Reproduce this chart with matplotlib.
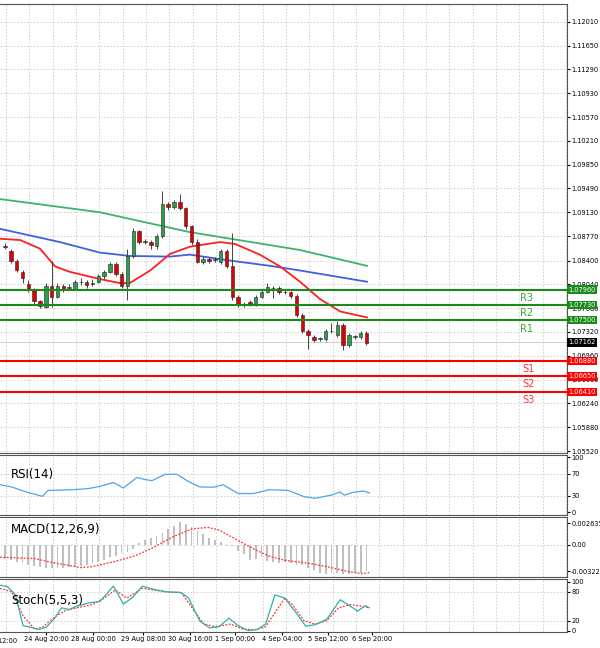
import matplotlib
matplotlib.use("Agg")
import matplotlib.pyplot as plt
import numpy as np

opens = [1.0862,1.0855,1.0840,1.0822,1.0805,1.0797,1.0779,1.0770,1.0802,1.0785,1.0802,1.0798,1.0797,1.0808,1.0808,1.0805,1.0808,1.0816,1.0823,1.0835,1.0820,1.0802,1.0847,1.0885,1.0868,1.0868,1.0862,1.0877,1.0925,1.0921,1.0928,1.0919,1.0892,1.0868,1.0838,1.0843,1.0841,1.0838,1.0855,1.0832,1.0785,1.0773,1.0778,1.0773,1.0785,1.0793,1.0799,1.0798,1.0793,1.0792,1.0787,1.0757,1.0733,1.0724,1.0722,1.0722,1.0733,1.0727,1.0743,1.0712,1.0725,1.0724,1.0730]
closes = [1.0861,1.0840,1.0825,1.0813,1.0797,1.0779,1.0772,1.0802,1.0785,1.0802,1.0797,1.0800,1.0808,1.0807,1.0803,1.0806,1.0817,1.0823,1.0835,1.0820,1.0802,1.0847,1.0885,1.0868,1.0869,1.0864,1.0877,1.0925,1.0921,1.0928,1.0919,1.0892,1.0868,1.0838,1.0843,1.0840,1.0843,1.0855,1.0832,1.0785,1.0773,1.0774,1.0773,1.0785,1.0793,1.0800,1.0798,1.0793,1.0792,1.0787,1.0757,1.0733,1.0727,1.0720,1.0722,1.0734,1.0733,1.0743,1.0712,1.0727,1.0725,1.0730,1.0716]
highs = [1.0866,1.0858,1.0843,1.0825,1.0810,1.0799,1.0781,1.0806,1.0840,1.0806,1.0804,1.0804,1.0810,1.0813,1.0811,1.0812,1.0820,1.0826,1.0838,1.0838,1.0823,1.0858,1.0889,1.0886,1.0872,1.0871,1.0880,1.0945,1.0929,1.0932,1.0940,1.0921,1.0894,1.0872,1.0847,1.0846,1.0846,1.0858,1.0858,1.0882,1.0788,1.0777,1.0781,1.0788,1.0797,1.0806,1.0802,1.0801,1.0796,1.0794,1.0790,1.0760,1.0736,1.0727,1.0725,1.0737,1.0745,1.0748,1.0746,1.0730,1.0728,1.0733,1.0733]
lows = [1.0858,1.0836,1.0822,1.0806,1.0792,1.0775,1.0768,1.0768,1.0770,1.0783,1.0793,1.0795,1.0795,1.0803,1.0799,1.0801,1.0806,1.0812,1.0821,1.0817,1.0798,1.0780,1.0844,1.0865,1.0865,1.0858,1.0858,1.0874,1.0917,1.0918,1.0916,1.0888,1.0864,1.0836,1.0835,1.0837,1.0838,1.0835,1.0829,1.0780,1.0770,1.0770,1.0771,1.0771,1.0783,1.0791,1.0784,1.0790,1.0789,1.0784,1.0754,1.0730,1.0707,1.0717,1.0719,1.0719,1.0730,1.0724,1.0705,1.0709,1.0722,1.0721,1.0713]

ma_red_x = [-0.86,2.6,6,8.6,11.1,16.3,19.7,21.4,24.9,28.3,31.7,36.9,39.5,43.7,47.2,50.6,54,57.5,62.1]
ma_red_y = [1.0873,1.0871,1.0858,1.0831,1.0823,1.0812,1.0806,1.0806,1.0825,1.0850,1.0861,1.0868,1.0865,1.0849,1.0831,1.0808,1.0782,1.0763,1.0754]
ma_blue_x = [-0.86,9.4,16.3,21.4,28.3,31.7,38.6,45.5,50.6,62.1]
ma_blue_y = [1.0888,1.0868,1.0852,1.0847,1.0846,1.0849,1.0840,1.0832,1.0825,1.0808]
ma_green_x = [-0.86,16.3,31.7,50.6,62.1]
ma_green_y = [1.0933,1.0913,1.0883,1.0856,1.0832]

res_levels = [1.0796,1.0773,1.0750]
res_names = ["R3","R2","R1"]
sup_levels = [1.0688,1.0665,1.0641]
sup_names = ["S1","S2","S3"]
last_price = 1.07162

price_ticks = [1.12010,1.11650,1.11290,1.10930,1.10570,1.10210,1.09850,1.09490,1.09130,1.08770,1.08400,1.08040,1.07680,1.07320,1.06960,1.06600,1.06240,1.05880,1.05520]

rsi_x = [-0.86,1.12,3.1,6.4,7.4,9.7,12.3,14.3,16.3,18.6,20.3,22.6,23.9,25.2,27.5,29.5,31.5,33.4,35.8,37.4,40.0,42.7,45.3,48.6,51.3,53.2,55.9,57.5,58.2,59.5,61.5,62.5]
rsi_y = [50,46,38.6,28.9,39.7,40.3,41.4,43,47,54,44,63,59.7,57.4,68.9,69,55.7,46,45.4,50,34,34,40.9,39.7,28.3,25.4,31,36.9,31,35.7,38.6,35.1]

macd_hist = [-1.66,-1.87,-2.04,-2.21,-2.38,-2.51,-2.68,-2.85,-2.85,-2.85,-2.81,-2.64,-2.64,-2.51,-2.38,-2.21,-2.08,-1.79,-1.49,-1.36,-0.98,-0.81,-0.51,0.26,0.55,0.85,1.06,1.40,1.91,2.34,2.76,2.59,2.17,1.74,1.32,0.89,0.64,0.38,0.13,-0.13,-0.72,-1.15,-1.79,-1.66,-1.49,-1.91,-2.08,-2.21,-2.08,-2.21,-2.42,-2.42,-2.85,-3.06,-3.36,-3.49,-3.36,-3.36,-3.49,-3.49,-3.36,-3.36,-3.19]
macd_sig_x = [-0.86,5.1,7.7,13,15,18.9,22.2,25.5,28.8,32.1,34.8,36.7,39.4,42.7,45.3,48,51.9,55.2,58.5,61.2,62.5]
macd_sig_y = [-1.49,-1.66,-2.08,-2.76,-2.64,-2.00,-1.36,-0.30,0.98,1.96,2.13,1.83,0.77,-0.51,-1.36,-1.87,-2.21,-2.64,-3.19,-3.49,-3.36]

stk_x = [-0.86,0.46,1.78,3.1,4.42,5.74,7.06,8.38,9.7,11.0,12.3,14.3,16.3,18.6,20.3,21.9,23.55,25.5,27.5,30.2,31.5,33.4,35.1,36.7,38.4,40.0,41.7,43.3,44.7,46.3,48.0,50.0,51.6,53.2,55.2,57.5,58.8,60.5,61.8,62.5]
stk_y = [93.3,90,73.3,10,6.7,2,6.7,23.3,46.7,43.3,50,56.7,60,91.3,54.7,68,91.3,84.7,80,78,66.7,20,5.3,8,25.3,10,0,2,13.3,73.3,66.7,35.3,8.7,12,23.3,63.3,53.3,40,51.3,46.7]
sig_x = [-0.86,1.12,3.1,5.08,6.4,8.38,10.36,12.3,15.0,17.0,18.9,20.9,23.55,25.5,28.2,30.2,32.1,34.1,36.1,38.7,40.7,42.7,44.7,48.0,49.3,51.3,53.2,55.2,57.2,59.2,61.2,62.5]
sig_y = [86.7,80,30,3.3,6.7,26.7,41.3,46.7,53.3,66.7,83.3,66.7,86.7,83.3,78.7,78.7,46.7,13.3,8,13.3,3.3,1.3,8,66.7,53.3,20,13.3,20,46.7,53.3,50,46.7]

date_pos = [7.1,15.1,23.7,31.7,39.5,47.5,55.4,62.9]
date_labels = ["24 Aug 20:00","28 Aug 00:00","29 Aug 08:00","30 Aug 16:00","1 Sep 00:00","4 Sep 04:00","5 Sep 12:00","6 Sep 20:00"]

W, H = 600, 648
FS = 4.8
fig = plt.figure(figsize=(6, 6.48), dpi=100)
XL = (-0.86, 96.4)
right = 567

def mkax(top, bot):
    ax = fig.add_axes([0, 1 - bot / H, right / W, (bot - top) / H])
    ax.set_xlim(*XL)
    ax.yaxis.tick_right()
    ax.tick_params(axis='y', labelsize=FS, length=2, pad=1)
    ax.tick_params(axis='x', length=0, labelbottom=False)
    ax.spines['left'].set_visible(False)
    for s in ['top', 'bottom', 'right']:
        ax.spines[s].set_color('#555555')
    for v in np.arange(0.2, 97, 4):
        ax.axvline(v, color='#cccccc', ls=(0, (2, 2)), lw=0.6, zorder=0)
    return ax

ax = mkax(4, 453)
ax.set_ylim(1.0549, 1.1228)
ax.set_yticks(price_ticks)
ax.set_yticklabels([f"{t:.5f}" for t in price_ticks])
for t in price_ticks:
    ax.axhline(t, color='#cccccc', ls=(0, (2, 2)), lw=0.6, zorder=0)
idx = np.arange(len(opens))
ax.plot(ma_green_x, ma_green_y, color='#3cb371', lw=1.3, zorder=2)
ax.plot(ma_blue_x, ma_blue_y, color='#4060e0', lw=1.3, zorder=2)
ax.plot(ma_red_x, ma_red_y, color='#ff2020', lw=1.3, zorder=2)
ax.vlines(idx, lows, highs, color='#444444', lw=0.7, zorder=3)
for i in idx:
    o, c = opens[i], closes[i]
    col = '#2e9e4e' if c >= o else '#e00000'
    h = c - o
    if abs(h) < 0.00008:
        h = 0.00008 if h >= 0 else -0.00008
    ax.bar(i, h, bottom=o, width=0.6, color=col, edgecolor='#222222', lw=0.4, zorder=4)
ax.axhline(last_price, color='#c8c8c8', lw=0.6, zorder=1)
for lv, nm in zip(res_levels, res_names):
    ax.axhline(lv, color='#1a8a1a', lw=1.5, zorder=5)
    ax.text(89.4, lv - 0.0013, nm, color='#33aa33', fontsize=7, ha='center', va='center')
    ax.text(1.002, lv, f"{lv:.5f}", transform=ax.get_yaxis_transform(), fontsize=FS,
            color='white', va='center', ha='left',
            bbox=dict(boxstyle='square,pad=0.2', fc='#1a8a1a', ec='none'))
for lv, nm in zip(sup_levels, sup_names):
    ax.axhline(lv, color='#ff0000', lw=1.5, zorder=5)
    ax.text(89.8, lv - 0.0012, nm, color='#ff3333', fontsize=7, ha='center', va='center')
    ax.text(1.002, lv, f"{lv:.5f}", transform=ax.get_yaxis_transform(), fontsize=FS,
            color='white', va='center', ha='left',
            bbox=dict(boxstyle='square,pad=0.2', fc='#ff0000', ec='none'))
ax.text(1.002, last_price, f"{last_price:.5f}", transform=ax.get_yaxis_transform(), fontsize=FS,
        color='white', va='center', ha='left',
        bbox=dict(boxstyle='square,pad=0.2', fc='black', ec='none'))

ar = mkax(455, 515)
ar.set_ylim(-5, 104)
ar.set_yticks([100, 70, 30, 0])
for t in [70, 30]:
    ar.axhline(t, color='#cccccc', ls=(0, (2, 2)), lw=0.6, zorder=0)
ar.plot(rsi_x, rsi_y, color='#4da6e8', lw=0.9)
ar.text(0.02, 0.68, "RSI(14)", transform=ar.transAxes, fontsize=8.5, va='center')

am = mkax(517, 577)
am.set_ylim(-3.9, 3.4)
am.set_yticks([2.635, 0, -3.22])
am.set_yticklabels(["0.002635", "0.00", "-0.00322"])
am.axhline(0, color='#cccccc', ls=(0, (2, 2)), lw=0.6, zorder=0)
am.bar(idx, macd_hist, width=0.3, color='#c0c0c0', zorder=2)
am.plot(macd_sig_x, macd_sig_y, color='#ff3030', lw=0.9, ls=(0, (1.5, 1.2)), zorder=3)
am.text(0.02, 0.8, "MACD(12,26,9)", transform=am.transAxes, fontsize=8.5, va='center')

ast = mkax(579, 632)
ast.set_ylim(-3, 106)
ast.set_yticks([100, 80, 20, 0])
for t in [80, 20]:
    ast.axhline(t, color='#cccccc', ls=(0, (2, 2)), lw=0.6, zorder=0)
ast.plot(stk_x, stk_y, color='#30b0a8', lw=0.9, zorder=3)
ast.plot(sig_x, sig_y, color='#ff3030', lw=0.9, ls=(0, (1.5, 1.2)), zorder=2)
ast.text(0.02, 0.6, "Stoch(5,5,3)", transform=ast.transAxes, fontsize=8.5, va='center')
ast.tick_params(axis='x', labelbottom=True, labelsize=FS, length=2, pad=1)
ast.set_xticks(date_pos)
ast.set_xticklabels(date_labels)
ast.text(-0.86, -16, "Aug 12:00", fontsize=FS, ha='center', va='top', clip_on=False)

fig.savefig("out.png", dpi=100)
